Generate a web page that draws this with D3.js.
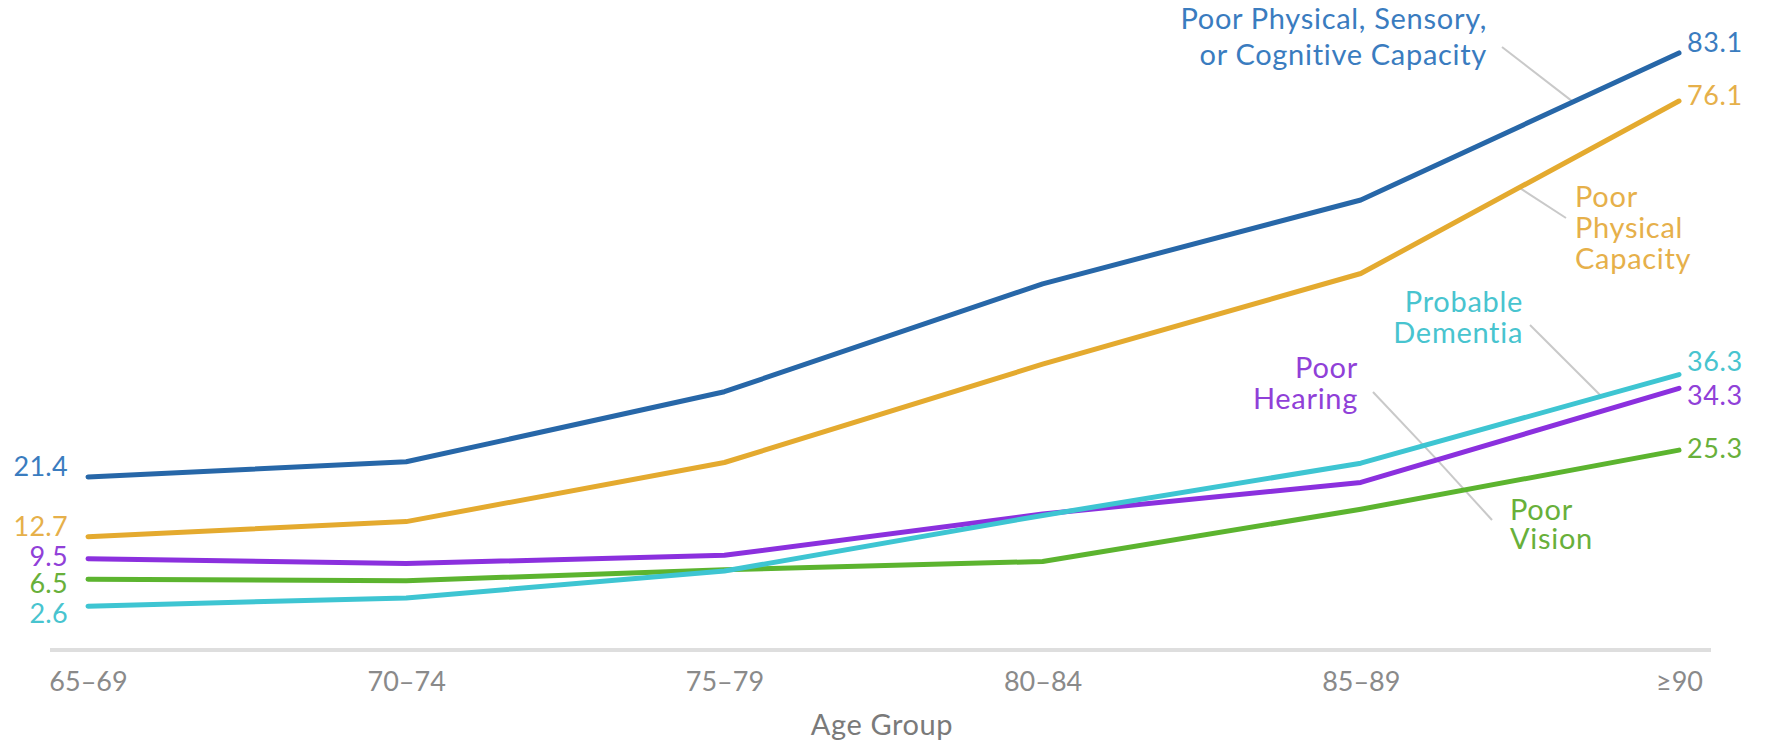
<!DOCTYPE html>
<html>
<head>
<meta charset="utf-8">
<script src="https://cdn.jsdelivr.net/npm/d3@7"></script>
<style>
  html, body { margin: 0; padding: 0; background: #fff; }
  svg { display: block; font-family: Lato, "Open Sans", sans-serif; font-variant-ligatures: none; }
</style>
</head>
<body>
<svg id="chart" width="1767" height="744"></svg>
<script>
// Age groups and prevalence (%) of each capacity limitation
const ageGroups = ["65–69", "70–74", "75–79", "80–84", "85–89", "≥90"];
const anyCapacity = [21.4, 23.6, 33.8, 49.5, 61.7, 83.1];
const physicalCapacity = [12.7, 14.9, 23.5, 37.8, 51.0, 76.1];
const poorHearing = [9.5, 8.8, 10.0, 16.0, 20.6, 34.3];
const poorVision = [6.5, 6.3, 7.9, 9.1, 16.7, 25.3];
const probableDementia = [2.6, 3.8, 7.7, 15.8, 23.4, 36.3];

const seriesNames = ["Poor Vision", "Poor Hearing", "Probable Dementia", "Poor Physical Capacity", "Poor Physical, Sensory, or Cognitive Capacity"];
const seriesValues = [poorVision, poorHearing, probableDementia, physicalCapacity, anyCapacity];

// Styling / layout per series
const style = {
  "Poor Physical, Sensory, or Cognitive Capacity": {
    line: "#2767a8", text: "#3a7cbf",
    label: ["Poor Physical, Sensory,", "or Cognitive Capacity"],
    lx: 1487, ly: 29, lh: 36, anchor: "end",
    leader: { from: [1502, 47], seg: 4, t: 0.667 },
    startDy: -1, endDy: -1
  },
  "Poor Physical Capacity": {
    line: "#e4aa2f", text: "#e6b04a",
    label: ["Poor", "Physical", "Capacity"],
    lx: 1575, ly: 207, lh: 31, anchor: "start",
    leader: { from: [1566, 218], seg: 4, t: 0.498 },
    startDy: -1, endDy: 4
  },
  "Probable Dementia": {
    line: "#3ec5d2", text: "#48c4cf",
    label: ["Probable", "Dementia"],
    lx: 1523, ly: 312, lh: 31, anchor: "end",
    leader: { from: [1530, 325], seg: 4, t: 0.756 },
    startDy: 17, endDy: -4
  },
  "Poor Hearing": {
    line: "#8b30de", text: "#9040d8",
    label: ["Poor", "Hearing"],
    lx: 1358, ly: 378, lh: 31, anchor: "end",
    leader: { from: [1373, 392], seg: 4, t: 0.24 },
    startDy: 7, endDy: 17
  },
  "Poor Vision": {
    line: "#5cb42f", text: "#68b03a",
    label: ["Poor", "Vision"],
    lx: 1510, ly: 520, lh: 29, anchor: "start",
    leader: { from: [1492, 520], seg: 4, t: 0.24, on: "Poor Hearing" },
    startDy: 14, endDy: 8
  }
};

const svg = d3.select("#chart");

const x = d3.scalePoint().domain(ageGroups).range([88, 1679]);
const y = d3.scaleLinear().domain([0, 90]).range([624, 5.5]);

// Baseline
svg.append("line")
  .attr("x1", 50).attr("x2", 1711)
  .attr("y1", 650).attr("y2", 650)
  .attr("stroke", "#dedede").attr("stroke-width", 4);

// X axis labels
const xAxis = svg.append("g")
  .attr("transform", "translate(0,650)")
  .call(d3.axisBottom(x).tickSize(0).tickPadding(22));
xAxis.select(".domain").remove();
xAxis.selectAll("text")
  .attr("fill", "#8a8a8a")
  .style("font-family", "Lato, sans-serif")
  .style("font-size", "27px");

svg.append("text")
  .attr("x", 882).attr("y", 735)
  .attr("text-anchor", "middle")
  .attr("fill", "#7a7a7a")
  .style("font-size", "29px")
  .style("letter-spacing", "0.6px")
  .text("Age Group");

const line = d3.line()
  .x((d, i) => x(ageGroups[i]))
  .y(d => y(d));

// Point on a series between index seg and seg+1
function along(name, seg, t) {
  const vals = seriesValues[seriesNames.indexOf(name)];
  const x0 = x(ageGroups[seg]), x1 = x(ageGroups[seg + 1]);
  const y0 = y(vals[seg]), y1 = y(vals[seg + 1]);
  return [x0 + (x1 - x0) * t, y0 + (y1 - y0) * t];
}

// Leader lines
const leaders = svg.append("g");
seriesNames.forEach(name => {
  const s = style[name];
  const p = along(s.leader.on || name, s.leader.seg, s.leader.t);
  leaders.append("line")
    .attr("x1", s.leader.from[0]).attr("y1", s.leader.from[1])
    .attr("x2", p[0]).attr("y2", p[1])
    .attr("stroke", "#c9c9c9").attr("stroke-width", 2);
});

// Series lines
seriesNames.forEach((name, k) => {
  svg.append("path")
    .datum(seriesValues[k])
    .attr("d", line)
    .attr("fill", "none")
    .attr("stroke", style[name].line)
    .attr("stroke-width", 5)
    .attr("stroke-linejoin", "round")
    .attr("stroke-linecap", "round");
});

// Start / end value labels
seriesNames.forEach((name, k) => {
  const vals = seriesValues[k];
  const s = style[name];
  svg.append("text")
    .attr("x", 68).attr("y", y(vals[0]) + s.startDy)
    .attr("text-anchor", "end")
    .attr("fill", s.text)
    .style("font-size", "27px")
    .style("letter-spacing", "0.3px")
    .text(vals[0].toFixed(1));
  svg.append("text")
    .attr("x", 1687).attr("y", y(vals[vals.length - 1]) + s.endDy)
    .attr("text-anchor", "start")
    .attr("fill", s.text)
    .style("font-size", "27px")
    .style("letter-spacing", "0.6px")
    .text(vals[vals.length - 1].toFixed(1));
});

// Series name labels
seriesNames.forEach(name => {
  const s = style[name];
  const t = svg.append("text")
    .attr("text-anchor", s.anchor)
    .attr("fill", s.text)
    .style("font-size", "29px")
    .style("letter-spacing", "0.7px");
  s.label.forEach((ln, i) => {
    t.append("tspan").attr("x", s.lx).attr("y", s.ly + i * s.lh).text(ln);
  });
});
</script>
</body>
</html>
